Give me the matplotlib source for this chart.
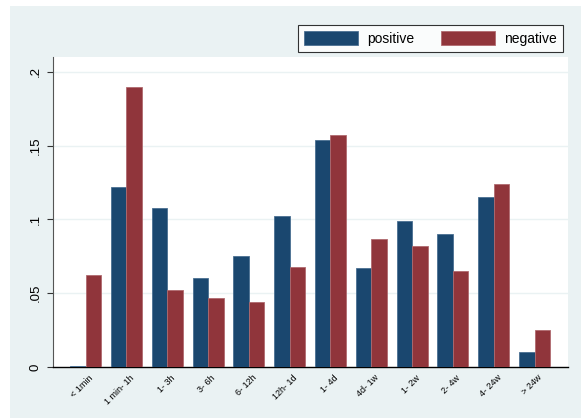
import matplotlib
matplotlib.use("Agg")
import matplotlib.pyplot as plt
import matplotlib.transforms as mtransforms
from matplotlib.patches import Patch, Rectangle
import numpy as np

plt.rcParams['font.family'] = ['Liberation Sans', 'DejaVu Sans']

categories = ["< 1min", "1 min- 1h", "1- 3h", "3- 6h", "6- 12h", "12h- 1d",
              "1- 4d", "4d- 1w", "1- 2w", "2- 4w", "4- 24w", "> 24w"]
positive = [0.001, 0.122, 0.108, 0.060, 0.075, 0.102,
            0.154, 0.067, 0.099, 0.090, 0.115, 0.010]
negative = [0.062, 0.190, 0.052, 0.047, 0.044, 0.068,
            0.157, 0.087, 0.082, 0.065, 0.124, 0.025]
yticks = [0, 0.05, 0.10, 0.15, 0.20]
ytick_labels = ["0", ".05", ".1", ".15", ".2"]

navy = "#1a476f"
maroon = "#90353b"
navy_edge = "#4a6f92"
maroon_edge = "#b06a6f"
region_bg = "#eaf2f3"

W, H = 581, 419
fig = plt.figure(figsize=(W / 100, H / 100), dpi=100, facecolor="white")

# light graph region behind the white plot area
fig.patches.append(Rectangle((10 / W, 1 / H), 571 / W, 412 / H,
                             transform=fig.transFigure, facecolor=region_bg,
                             edgecolor="none", zorder=-5))

ax = fig.add_axes([53 / W, (H - 367) / H, (568 - 53) / W, (367 - 57) / H])
ax.set_zorder(1)
ax.set_facecolor("white")

x = np.arange(len(categories))
bw = 0.38
ax.bar(x - bw / 2, positive, width=bw, color=navy, edgecolor=navy_edge,
       linewidth=0.6, zorder=3)
ax.bar(x + bw / 2, negative, width=bw, color=maroon, edgecolor=maroon_edge,
       linewidth=0.6, zorder=3)

ax.set_xlim(-0.8, 11.82)
ax.set_ylim(0, 0.21)

ax.set_yticks(yticks)
ax.set_yticklabels(ytick_labels, rotation=90, va="center", fontsize=9.5)
ax.tick_params(axis="y", length=4.3, width=0.8, color="#333333", pad=4)
for v in yticks[1:]:
    ax.axhline(v, color=region_bg, linewidth=1.0, zorder=1)

ax.set_xticks(x)
ax.set_xticklabels(categories, rotation=45, ha="right", rotation_mode="anchor",
                   fontsize=6.5)
ax.tick_params(axis="x", length=0, pad=4.5)
shift = mtransforms.ScaledTranslation(3 / 100, 0, fig.dpi_scale_trans)
for lbl in ax.get_xticklabels():
    lbl.set_transform(lbl.get_transform() + shift)

for side in ("top", "right"):
    ax.spines[side].set_visible(False)
ax.spines["left"].set_color("#555555")
ax.spines["left"].set_linewidth(0.8)
ax.spines["bottom"].set_color("black")
ax.spines["bottom"].set_linewidth(1.0)

handles = [Patch(facecolor=navy, edgecolor=navy_edge, linewidth=0.6, label="positive"),
           Patch(facecolor=maroon, edgecolor=maroon_edge, linewidth=0.6, label="negative")]
leg = fig.legend(handles=handles, loc="upper right",
                 bbox_to_anchor=(563 / W, 1 - 25 / H), ncol=2, fontsize=10,
                 frameon=True, fancybox=False, edgecolor="black",
                 handlelength=3.9, handleheight=1.2, handletextpad=0.65,
                 columnspacing=1.9, borderpad=0.45, borderaxespad=0)
leg.get_frame().set_linewidth(0.8)
leg.get_frame().set_facecolor("white")
leg.set_zorder(5)

fig.savefig("out.png", dpi=100, facecolor="white")
